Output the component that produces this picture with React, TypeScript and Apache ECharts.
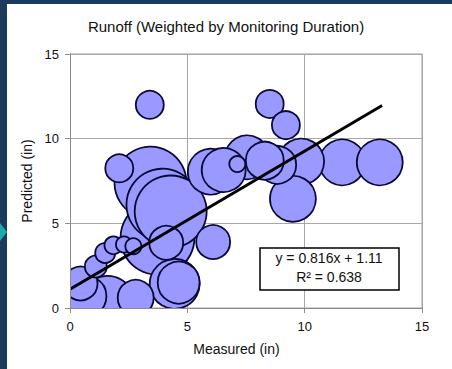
import React, { useEffect, useRef } from "react";
import * as echarts from "echarts";

// Bubble data: measured (x), predicted (y), monitoring duration (bubble weight)
const measured = [3.4, 8.51, 9.2, 11.6, 13.2, 9.85, 9.5, 8.83, 8.3, 7.55, 7.13, 6.55, 6.0, 2.1, 3.43, 3.94, 4.29, 3.73, 4.1, 6.1, 4.46, 4.63, 0.45, 0.7, 1.6, 2.8, 1.1, 1.5, 1.85, 2.3, 2.7];
const predicted = [12.0, 12.05, 10.8, 8.6, 8.6, 8.65, 6.45, 8.45, 8.7, 8.9, 8.5, 8.15, 8.05, 8.25, 7.4, 6.1, 5.7, 4.15, 3.85, 3.9, 1.42, 1.5, 1.45, 0.7, 0.3, 0.6, 2.45, 3.25, 3.7, 3.75, 3.65];
const duration = [49, 49, 49, 132, 132, 132, 132, 90, 90, 121, 16, 121, 132, 49, 324, 324, 324, 342, 72, 72, 156, 110, 72, 100, 182, 81, 30, 25, 20, 16, 16];

const xTicks = [0, 5, 10, 15];
const yTicks = [0, 5, 10, 15];

const slope = 0.816;
const intercept = 1.11;
const rSquared = 0.638;
const fitRange = [0, 13.3];

const TITLE = "Runoff (Weighted by Monitoring Duration)";
const X_NAME = "Measured (in)";
const Y_NAME = "Predicted (in)";

const FONT = "'Liberation Sans', Arial, sans-serif";

export default function App() {
  const ref = useRef<HTMLDivElement>(null);

  useEffect(() => {
    document.body.style.margin = "0";
    if (!ref.current) return;
    const chart = echarts.init(ref.current, null, { renderer: "svg" });

    const bubbles = measured
      .map((x, i) => [x, predicted[i], duration[i]])
      .sort((a, b) => b[2] - a[2]);

    const fitLine = fitRange.map((x) => [x, slope * x + intercept]);

    const xMin = xTicks[0];
    const xMax = xTicks[xTicks.length - 1];
    const yMin = yTicks[0];
    const yMax = yTicks[yTicks.length - 1];
    const xInt = xTicks[1] - xTicks[0];
    const yInt = yTicks[1] - yTicks[0];

    const labelStyle = { color: "#111", fontSize: 13, fontFamily: FONT };

    chart.setOption({
      animation: false,
      backgroundColor: "transparent",
      title: {
        text: TITLE,
        left: "center",
        top: 14,
        textStyle: { color: "#111", fontSize: 15, fontWeight: "normal", fontFamily: FONT },
      },
      grid: {
        left: 70,
        top: 54,
        right: 30,
        bottom: 61,
        show: true,
        borderColor: "#a0a0a0",
        borderWidth: 1,
        backgroundColor: "transparent",
      },
      xAxis: [
        {
          type: "value", min: xMin, max: xMax, interval: xInt, position: "bottom", z: 0,
          axisLine: { show: false }, axisTick: { show: false }, axisLabel: { show: false },
          splitLine: { show: true, lineStyle: { color: "#a8a8a8", width: 1 } },
        },
        {
          type: "value", min: xMin, max: xMax, interval: xInt, position: "bottom", z: 100,
          axisLine: { show: true, lineStyle: { color: "#8c8c8c", width: 1 } },
          axisTick: { show: true, length: 5, lineStyle: { color: "#8c8c8c" } },
          axisLabel: { ...labelStyle, margin: 12 },
          splitLine: { show: false },
          name: X_NAME,
          nameLocation: "middle",
          nameGap: 34,
          nameTextStyle: { color: "#111", fontSize: 14, fontFamily: FONT, padding: [0, 19, 0, 0] },
        },
      ],
      yAxis: [
        {
          type: "value", min: yMin, max: yMax, interval: yInt, position: "left", z: 0,
          axisLine: { show: false }, axisTick: { show: false }, axisLabel: { show: false },
          splitLine: { show: true, lineStyle: { color: "#a8a8a8", width: 1 } },
        },
        {
          type: "value", min: yMin, max: yMax, interval: yInt, position: "left", z: 100,
          axisLine: { show: true, lineStyle: { color: "#8c8c8c", width: 1 } },
          axisTick: { show: true, length: 5, lineStyle: { color: "#8c8c8c" } },
          axisLabel: { ...labelStyle, margin: 11 },
          splitLine: { show: false },
          name: Y_NAME,
          nameLocation: "middle",
          nameGap: 36,
          nameTextStyle: { color: "#111", fontSize: 14, fontFamily: FONT },
        },
      ],
      series: [
        {
          type: "scatter",
          xAxisIndex: 0,
          yAxisIndex: 0,
          z: 2,
          data: bubbles,
          symbol: "circle",
          symbolSize: (v: number[]) => Math.sqrt(v[2]) * 4,
          itemStyle: { color: "#9999ff", borderColor: "#0a0a35", borderWidth: 1.8, opacity: 1 },
          emphasis: { disabled: true },
        },
        {
          type: "line",
          xAxisIndex: 0,
          yAxisIndex: 0,
          z: 3,
          data: fitLine,
          symbol: "none",
          lineStyle: { color: "#000", width: 3 },
          emphasis: { disabled: true },
        },
      ],
      graphic: [
        // masks clip bubbles to the plot area
        { type: "rect", z: 50, silent: true, shape: { x: 7, y: 4, width: 63, height: 365 }, style: { fill: "#fff" } },
        { type: "rect", z: 50, silent: true, shape: { x: 7, y: 308.5, width: 445, height: 61 }, style: { fill: "#fff" } },
        // arrow on the slide edge
        { type: "polygon", z: 60, silent: true, shape: { points: [[0, 223], [7, 232], [0, 241]] }, style: { fill: "#1fa9ab" } },
        // equation box
        { type: "rect", z: 60, silent: true, shape: { x: 260, y: 248, width: 139, height: 42 }, style: { fill: "#fff", stroke: "#000", lineWidth: 1.5 } },
        {
          type: "text", z: 61, silent: true, x: 329, y: 258,
          style: { text: `y = ${slope}x + ${intercept}`, fill: "#111", fontSize: 14, fontFamily: FONT, align: "center", verticalAlign: "middle" },
        },
        {
          type: "text", z: 61, silent: true, x: 329, y: 277,
          style: { text: `R² = ${rSquared}`, fill: "#111", fontSize: 14, fontFamily: FONT, align: "center", verticalAlign: "middle" },
        },
      ],
    });

    return () => chart.dispose();
  }, []);

  return (
    <div style={{ position: "fixed", left: 0, top: 0, width: 452, height: 369, background: "#1c3a5c", overflow: "hidden" }}>
      <div style={{ position: "absolute", left: 7, top: 4, width: 445, height: 365, background: "#fff" }} />
      <div ref={ref} style={{ position: "absolute", left: 0, top: 0, width: 452, height: 369 }} />
    </div>
  );
}
